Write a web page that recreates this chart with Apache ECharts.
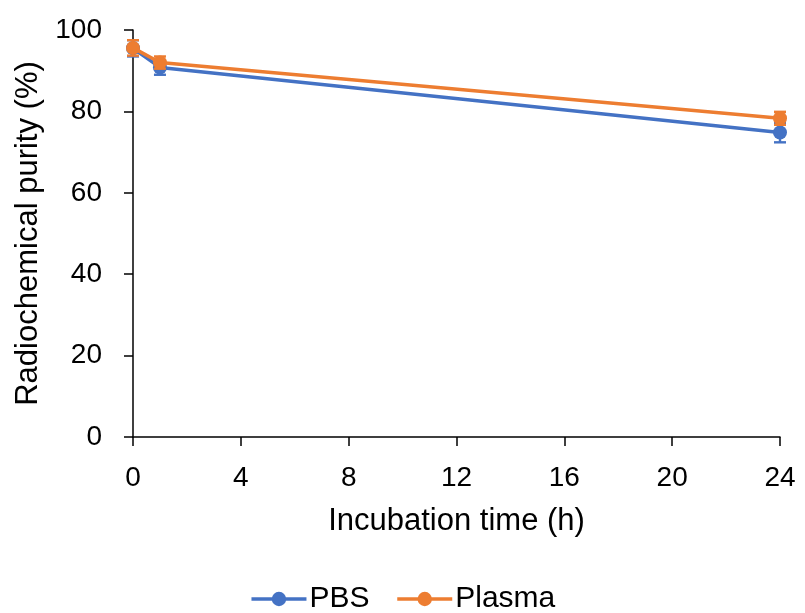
<!DOCTYPE html>
<html>
<head>
<meta charset="utf-8">
<script src="https://cdn.jsdelivr.net/npm/echarts@6/dist/echarts.min.js"></script>
<style>
	html, body { margin: 0; padding: 0; background: #fff; }
	#chart { width: 805px; height: 613px; }
</style>
</head>
<body>
<div id="chart"></div>
<script>
const hours = [0, 1, 24];
const pbsValues = [95.5, 90.8, 74.8];
const pbsErrors = [2.0, 1.8, 2.4];
const plasmaValues = [95.6, 92.0, 78.3];
const plasmaErrors = [1.9, 1.5, 1.6];
const xTicks = [0, 4, 8, 12, 16, 20, 24];
const yTicks = [0, 20, 40, 60, 80, 100];

const FONT = '"Liberation Sans", Arial, sans-serif';
const BLUE = '#4472C4';
const ORANGE = '#ED7D31';

const toPoints = (values) => hours.map((h, i) => [h, values[i]]);
const toErrorData = (values, errors) => hours.map((h, i) => [h, values[i] - errors[i], values[i] + errors[i]]);

// 误差线: 竖线 + 上下短横
const errorBarSeries = (name, values, errors, color, z) => ({
	name: name,
	type: 'custom',
	z: z,
	silent: true,
	data: toErrorData(values, errors),
	renderItem: (params, api) => {
		const low = api.coord([api.value(0), api.value(1)]);
		const high = api.coord([api.value(0), api.value(2)]);
		const half = 6;
		const style = { stroke: color, lineWidth: 2.4 };
		return {
			type: 'group',
			children: [
				{ type: 'line', shape: { x1: low[0], y1: low[1], x2: high[0], y2: high[1] }, style: style },
				{ type: 'line', shape: { x1: low[0] - half, y1: low[1], x2: low[0] + half, y2: low[1] }, style: style },
				{ type: 'line', shape: { x1: high[0] - half, y1: high[1], x2: high[0] + half, y2: high[1] }, style: style },
			],
		};
	},
});

const lineSeries = (name, values, color, z) => ({
	name: name,
	type: 'line',
	z: z,
	data: toPoints(values),
	symbol: 'circle',
	symbolSize: 14,
	lineStyle: { color: color, width: 3.5 },
	itemStyle: { color: color },
	emphasis: { disabled: true },
});

const chart = echarts.init(document.getElementById('chart'));
chart.setOption({
	animation: false,
	textStyle: { fontFamily: FONT },
	grid: {
		left: 133,
		right: 25,
		top: 30,
		bottom: 176,
	},
	xAxis: {
		type: 'value',
		min: 0,
		max: 24,
		interval: 4,
		name: 'Incubation time (h)',
		nameLocation: 'middle',
		nameGap: 69,
		nameTextStyle: { fontSize: 31, color: '#000', fontFamily: FONT },
		axisLine: { lineStyle: { color: '#000', width: 1.5 } },
		axisTick: { show: true, length: 9, lineStyle: { color: '#000', width: 1.5 } },
		axisLabel: {
			fontSize: 28,
			color: '#000',
			margin: 27,
			fontFamily: FONT,
			formatter: (v) => xTicks.includes(v) ? String(v) : '',
		},
		splitLine: { show: false },
	},
	yAxis: {
		type: 'value',
		min: 0,
		max: 100,
		interval: 20,
		name: 'Radiochemical purity (%)',
		nameLocation: 'middle',
		nameGap: 86,
		nameRotate: 90,
		nameTextStyle: { fontSize: 31, color: '#000', fontFamily: FONT },
		axisLine: { show: true, lineStyle: { color: '#000', width: 1.5 } },
		axisTick: { show: true, length: 9, lineStyle: { color: '#000', width: 1.5 } },
		axisLabel: {
			fontSize: 28,
			color: '#000',
			margin: 31,
			fontFamily: FONT,
			formatter: (v) => yTicks.includes(v) ? String(v) : '',
		},
		splitLine: { show: false },
	},
	legend: {
		top: 579,
		left: 'center',
		itemWidth: 55,
		itemHeight: 18,
		itemGap: 26,
		data: ['PBS', 'Plasma'],
		lineStyle: { width: 3.5 },
		textStyle: { fontSize: 30, color: '#000', fontFamily: FONT, padding: [0, 0, 0, -2] },
	},
	series: [
		errorBarSeries('PBS error', pbsValues, pbsErrors, BLUE, 2),
		lineSeries('PBS', pbsValues, BLUE, 3),
		errorBarSeries('Plasma error', plasmaValues, plasmaErrors, ORANGE, 4),
		lineSeries('Plasma', plasmaValues, ORANGE, 5),
	],
});
</script>
</body>
</html>
